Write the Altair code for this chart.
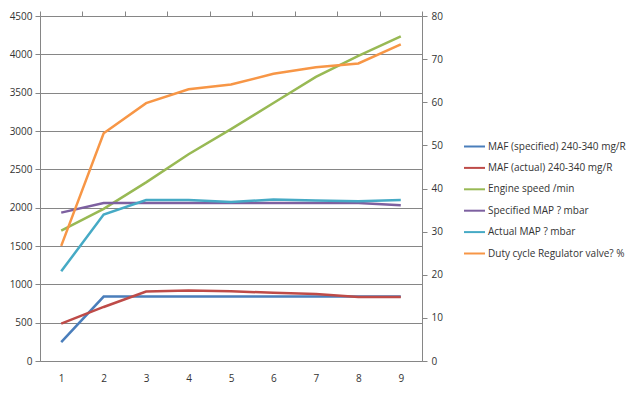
import altair as alt
import pandas as pd

categories = [1, 2, 3, 4, 5, 6, 7, 8, 9]
series_names = [
    "MAF (specified) 240-340  mg/R",
    "MAF (actual) 240-340  mg/R",
    "Engine speed  /min",
    "Specified MAP ?  mbar",
    "Actual MAP ?  mbar",
    "Duty cycle Regulator valve?  %",
]
colors = ["#4A7EBB", "#BE4B48", "#98B954", "#7D60A0", "#46AAC5", "#F79646"]

maf_specified = [245, 840, 840, 840, 840, 840, 840, 840, 840]
maf_actual = [487, 705, 905, 920, 910, 890, 875, 835, 835]
engine_speed = [1700, 1985, 2330, 2697, 3025, 3365, 3705, 3980, 4235]
specified_map = [1935, 2060, 2060, 2060, 2060, 2060, 2060, 2060, 2030]
actual_map = [1170, 1910, 2100, 2100, 2075, 2105, 2095, 2085, 2100]
duty_cycle = [26.7, 52.8, 59.8, 63.0, 64.1, 66.6, 68.1, 69.0, 73.4]

left_values = [maf_specified, maf_actual, engine_speed, specified_map, actual_map]
rows = []
for name, vals in zip(series_names[:5], left_values):
    for c, v in zip(categories, vals):
        rows.append({"series": name, "x": c, "value": v})
left_df = pd.DataFrame(rows)
right_df = pd.DataFrame({"series": series_names[5], "x": categories, "value": duty_cycle})

FONT = "Open Sans"
GRID = "#868686"
LABEL = "#333333"

color = alt.Color(
    "series:N",
    scale=alt.Scale(domain=series_names, range=colors),
    legend=alt.Legend(
        title=None, orient="none", legendX=423, legendY=119,
        symbolType="stroke", symbolSize=441, symbolStrokeWidth=2,
        labelFont=FONT, labelFontSize=10, labelColor=LABEL,
        labelOffset=2, rowPadding=4.4, labelLimit=300,
    ),
)

xscale = alt.Scale(domain=[0.5, 9.5], nice=False, zero=False)

left = alt.Chart(left_df).mark_line(strokeWidth=2.5).encode(
    x=alt.X("x:Q", scale=xscale, title=None,
            axis=alt.Axis(values=categories, tickSize=0, labelPadding=12, grid=False,
                          domainColor=GRID, labelFont=FONT, labelFontSize=10,
                          labelColor=LABEL, format="d")),
    y=alt.Y("value:Q", scale=alt.Scale(domain=[0, 4500], nice=False), title=None,
            axis=alt.Axis(values=list(range(0, 4501, 500)), orient="left", grid=True,
                          gridColor=GRID, gridWidth=1, domainColor=GRID, tickColor=GRID,
                          tickSize=5, labelPadding=3, labelFont=FONT, labelFontSize=10,
                          labelColor=LABEL, format="d")),
    color=color,
)

right = alt.Chart(right_df).mark_line(strokeWidth=2.5).encode(
    x=alt.X("x:Q", scale=xscale, title=None,
            axis=alt.Axis(values=[c - 0.5 for c in categories] + [9.5], labels=False,
                          tickSize=5, tickColor=GRID, domain=False, grid=False)),
    y=alt.Y("value:Q", scale=alt.Scale(domain=[0, 80], nice=False), title=None,
            axis=alt.Axis(values=list(range(0, 81, 10)), orient="right", grid=False,
                          domainColor=GRID, tickColor=GRID, tickSize=5, labelPadding=4,
                          labelFont=FONT, labelFontSize=10, labelColor=LABEL, format="d")),
    color=color,
)

chart = alt.layer(left, right).resolve_scale(y="independent").resolve_axis(
    x="independent"
).properties(
    width=382, height=345,
    autosize=alt.AutoSizeParams(type="none"),
    padding={"left": 32, "top": 8, "right": 210, "bottom": 28},
    background="white",
).configure_view(stroke=None)

chart.save("out.html", embed_options={"renderer": "svg", "actions": False})
